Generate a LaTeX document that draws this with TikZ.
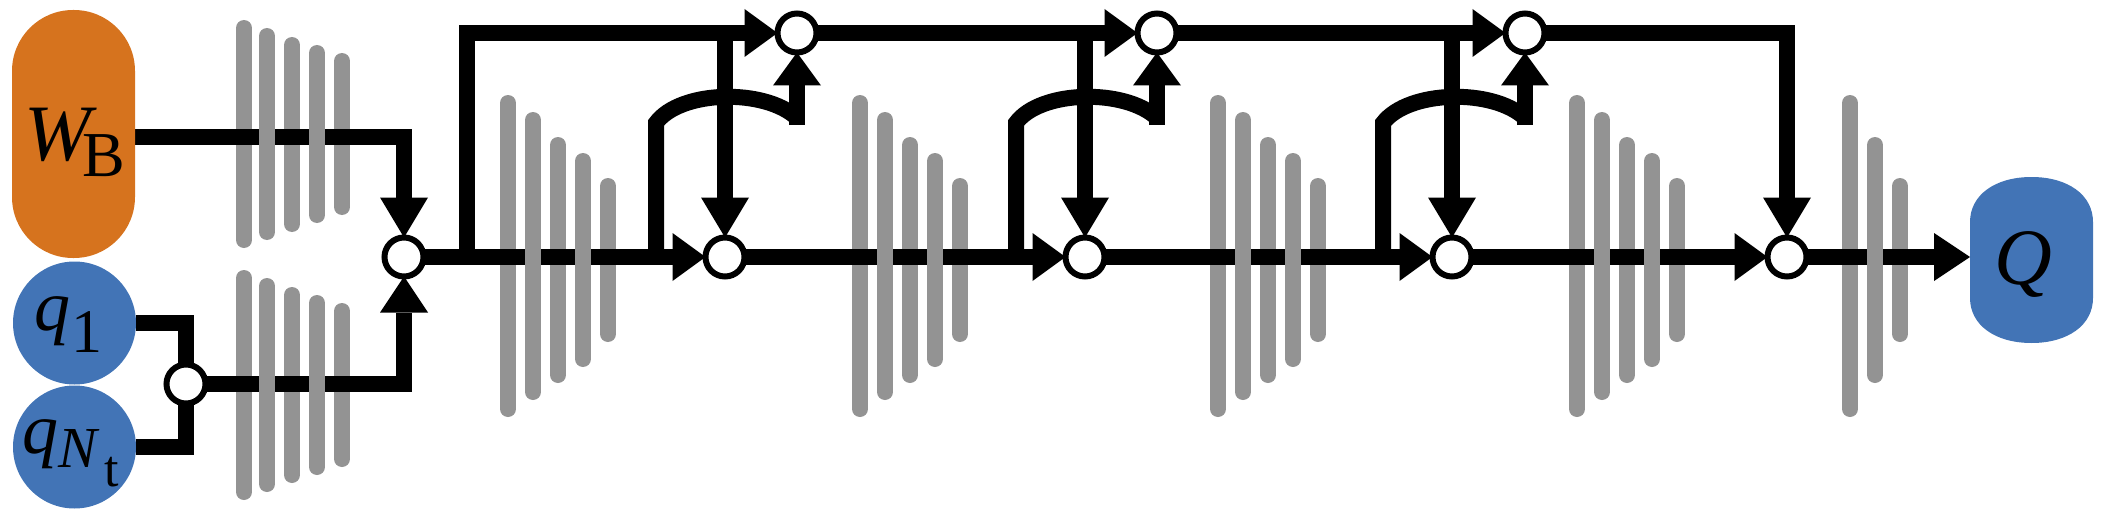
\documentclass[tikz,border=0pt]{standalone}
\usepackage{fontspec}
\setmainfont{Liberation Serif}
\usetikzlibrary{arrows.meta}
\definecolor{wbor}{HTML}{D6731E}
\definecolor{qbl}{HTML}{4274B6}
\definecolor{bargray}{HTML}{939393}
\pgfdeclarelayer{barsback}
\pgfdeclarelayer{wires}
\pgfdeclarelayer{barsfront}
\pgfsetlayers{barsback,wires,barsfront,main}
\newcommand\mybar[3]{\draw[barline] ({#1},{#2+8}) -- ({#1},{#3-8});}
\newcommand\fs[1]{\fontsize{#1}{#1}\selectfont}
\begin{document}
\begin{tikzpicture}[x=1pt,y=-1pt,
 jn/.style={circle,draw=black,fill=white,line width=6pt,minimum size=39pt,inner sep=0pt,outer sep=0pt},
 wire/.style={line width=16pt},
 arr/.style={wire,-{Triangle[width=48pt,length=#1,line width=0pt]}},
 barline/.style={line width=16pt,line cap=round,draw=bargray},
 term/.style={inner sep=0pt,outer sep=0pt}]
\useasboundingbox (0,0) rectangle (2105,519);
% terminals
\node[term,fill=wbor,minimum width=123pt,minimum height=248pt,rounded corners=61pt] (WB) at (73.5,134)
 {\raisebox{-26pt}[0pt][0pt]{\makebox[0pt][l]{\kern-49pt\fs{80}\itshape W\kern-9pt\raisebox{-17pt}{\fs{64}\upshape B}}}};
\node[term,circle,fill=qbl,minimum size=123pt] (q1) at (74.5,323)
 {\raisebox{-7pt}[0pt][0pt]{\makebox[0pt][l]{\kern-40pt\fs{72}\itshape q\kern1pt\raisebox{-22pt}{\fs{62}\upshape 1}}}};
\node[term,circle,fill=qbl,minimum size=123pt] (qNt) at (74.5,447)
 {\raisebox{-6pt}[0pt][0pt]{\makebox[0pt][l]{\kern-52pt\fs{72}\itshape q\kern0pt\raisebox{-14pt}{\fs{58}N\kern7pt\raisebox{-19pt}{\fs{52}\upshape t}}}}};
\node[term,minimum width=123pt,minimum height=166pt] (Q) at (2031.5,260)
 {\raisebox{-24pt}[0pt][0pt]{\makebox[0pt][l]{\kern-37pt\fs{80}\itshape Q}}};
% junctions
\node[jn] (Jq) at (186,384) {};
\node[jn] (J0) at (404,257) {};
\node[jn] (J1) at (725,257) {};
\node[jn] (J2) at (1085,257) {};
\node[jn] (J3) at (1452,257) {};
\node[jn] (J4) at (1787,257) {};
\node[jn] (U1) at (797,33) {};
\node[jn] (U2) at (1157,33) {};
\node[jn] (U3) at (1525,33) {};
% branch points
\coordinate (b0) at (467,257);
\coordinate (a1) at (656,257);
\coordinate (a2) at (1016,257);
\coordinate (a3) at (1383,257);
\coordinate (e1) at (797,125);
\coordinate (e2) at (1157,125);
\coordinate (e3) at (1525,125);
\coordinate (t1) at (725,33);
\coordinate (t2) at (1085,33);
\coordinate (t3) at (1452,33);
\begin{pgfonlayer}{barsback}
 \fill[qbl] (1970,222) .. controls (1970,195) and (1995,177) .. (2031.5,177)
   .. controls (2068,177) and (2093,195) .. (2093,222) -- (2093,298)
   .. controls (2093,325) and (2068,343) .. (2031.5,343)
   .. controls (1995,343) and (1970,325) .. (1970,298) -- cycle;
 \mybar{244}{20}{248}\mybar{292}{37}{232}\mybar{342}{53}{215}
 \mybar{244}{270}{500}\mybar{292}{287}{483}\mybar{342}{303}{467}
 \foreach \x in {508,860,1218,1577}{\mybar{\x}{95}{417}\mybar{\x+50}{137}{383}\mybar{\x+100}{178}{342}}
 \mybar{1850}{95}{417}\mybar{1900}{178}{342}
\end{pgfonlayer}
\begin{pgfonlayer}{wires}
 \draw[arr=40pt] ([yshift=-3pt]WB.east) -| (J0);
 \draw[wire] (q1) -| (Jq);
 \draw[wire] (qNt) -| (Jq);
 \draw[arr=36pt] (Jq) -| (J0);
 \draw[arr=33pt] (J0) -- (J1);
 \draw[arr=33pt] (J1) -- (J2);
 \draw[arr=33pt] (J2) -- (J3);
 \draw[arr=33pt] (J3) -- (J4);
 \draw[arr=36pt] (J4) -- (J4 -| Q.west);
 \draw[arr=33pt] (b0) |- (U1);
 \draw[arr=33pt] (U1) -- (U2);
 \draw[arr=33pt] (U2) -- (U3);
 \draw[arr=40pt] (U3) -| (J4);
 \draw[wire] (a1) -- (656,123) .. controls (680,90) and (765,88) .. (797,118);
 \draw[wire] (a2) -- (1016,123) .. controls (1040,90) and (1125,88) .. (1157,118);
 \draw[wire] (a3) -- (1383,123) .. controls (1408,90) and (1493,88) .. (1525,118);
 \draw[arr=33pt] (e1) -- (U1);
 \draw[arr=33pt] (e2) -- (U2);
 \draw[arr=33pt] (e3) -- (U3);
 \draw[arr=40pt] (t1) -- (J1);
 \draw[arr=40pt] (t2) -- (J2);
 \draw[arr=40pt] (t3) -- (J3);
\end{pgfonlayer}
\begin{pgfonlayer}{barsfront}
 \mybar{267}{28}{240}\mybar{317}{45}{223}
 \mybar{267}{278}{492}\mybar{317}{295}{475}
 \foreach \x in {533,885,1243,1602}{\mybar{\x}{112}{400}\mybar{\x+50}{153}{367}}
 \mybar{1875}{137}{383}
\end{pgfonlayer}
\end{tikzpicture}
\end{document}
